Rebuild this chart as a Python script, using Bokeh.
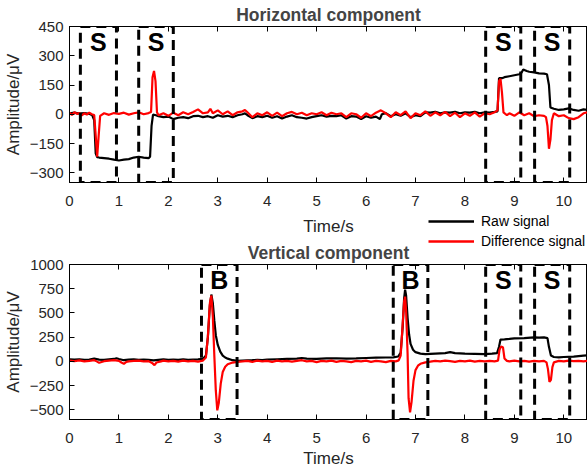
from bokeh.plotting import figure
from bokeh.layouts import column
from bokeh.models import LinearAxis, FixedTicker, Range1d, Legend, LegendItem
from bokeh.core.properties import value
from bokeh.embed import file_html
from bokeh.resources import INLINE

# ---------------- data ----------------
# Horizontal component - raw signal
t_raw_h = [0.0, 0.1, 0.2, 0.3, 0.4, 0.46, 0.5, 0.53, 0.56, 0.6, 0.7, 0.8, 0.9, 1.0, 1.1, 1.2, 1.3, 1.4, 1.5, 1.6,
           1.63, 1.66, 1.69, 1.75, 1.8, 1.9, 2.0, 2.1, 2.2, 2.3, 2.4, 2.5, 2.6, 2.7, 2.8, 2.9, 3.0, 3.1, 3.2, 3.3,
           3.4, 3.5, 3.55, 3.6, 3.7, 3.8, 3.9, 4.0, 4.1, 4.2, 4.3, 4.4, 4.5, 4.6, 4.7, 4.8, 4.9, 5.0, 5.1, 5.2,
           5.3, 5.4, 5.5, 5.6, 5.7, 5.8, 5.9, 6.0, 6.1, 6.2, 6.28, 6.32, 6.4, 6.5, 6.6, 6.7, 6.8, 6.9, 7.0, 7.1,
           7.2, 7.3, 7.4, 7.5, 7.6, 7.7, 7.8, 7.9, 8.0, 8.1, 8.2, 8.3, 8.4, 8.5, 8.6, 8.66, 8.69, 8.75, 8.8, 8.9,
           9.0, 9.1, 9.15, 9.18, 9.25, 9.3, 9.4, 9.5, 9.6, 9.66, 9.7, 9.73, 9.8, 9.9, 10.0, 10.1, 10.2, 10.3, 10.4, 10.48]
v_raw_h = [5, 8, 3, 6, 2, -5, -30, -200, -220, -222, -225, -228, -233, -237, -233, -230, -222, -218, -222, -225,
           -218, -60, -2, -5, -10, -15, -12, -25, -18, -15, -20, -10, -8, -15, -10, -18, -5, -12, -8, -15,
           -5, 0, 5, -5, -20, -10, -15, -8, -18, -10, -22, -12, -5, -15, -18, -22, -15, -10, -5, -12,
           -8, -10, -5, -22, -10, -12, -25, -10, -18, -12, -25, 0, 5, -10, 0, -8, 5, -15, -5, -10,
           10, 8, 12, 5, 10, 8, 12, 5, 10, 8, 12, 5, 10, 8, 12, 15, 185, 185, 190, 195,
           200, 205, 215, 230, 222, 218, 215, 210, 208, 205, 150, 35, 28, 22, 25, 30, 22, 18, 25, 22]

# Horizontal component - difference signal
t_diff_h = [0.0, 0.05, 0.1, 0.15, 0.2, 0.25, 0.3, 0.35, 0.4, 0.45, 0.5, 0.53, 0.56, 0.59, 0.62, 0.7, 0.8, 0.9, 1.0, 1.1,
            1.2, 1.3, 1.4, 1.5, 1.6, 1.65, 1.68, 1.71, 1.74, 1.77, 1.8, 1.9, 2.0, 2.1, 2.2, 2.3, 2.4, 2.5, 2.6, 2.7,
            2.8, 2.85, 2.9, 3.0, 3.1, 3.2, 3.3, 3.4, 3.5, 3.55, 3.6, 3.7, 3.8, 3.9, 4.0, 4.1, 4.2, 4.3, 4.4, 4.5,
            4.6, 4.7, 4.8, 4.9, 5.0, 5.1, 5.2, 5.3, 5.4, 5.5, 5.6, 5.7, 5.8, 5.9, 6.0, 6.1, 6.2, 6.3, 6.4, 6.5,
            6.6, 6.7, 6.8, 6.9, 7.0, 7.1, 7.2, 7.3, 7.4, 7.5, 7.6, 7.7, 7.8, 7.9, 8.0, 8.1, 8.2, 8.3, 8.4, 8.5,
            8.6, 8.66, 8.69, 8.72, 8.75, 8.78, 8.85, 8.9, 9.0, 9.1, 9.2, 9.3, 9.4, 9.5, 9.6, 9.64, 9.67, 9.7, 9.73, 9.76,
            9.8, 9.9, 10.0, 10.1, 10.2, 10.3, 10.4, 10.48]
v_diff_h = [8, -4, 10, 2, 6, -6, 5, -2, 8, 0, -4, -110, -217, -110, -8, 5, -3, 6, 2, 8,
            -2, 5, 10, 0, 6, 12, 190, 222, 170, 10, -5, 5, -8, 8, -5, 10, 0, 12, 25, 5,
            10, 28, 5, 20, 0, 15, -5, 10, 15, 22, 10, -15, 5, -5, 10, -8, 8, -10, 5, 12,
            0, 8, -5, 5, 0, 10, -5, 8, 0, 5, -15, 5, 0, -18, 5, -10, 8, 20, 5, -15,
            10, -5, 15, -20, 5, -5, 15, -8, 10, -5, 12, -10, 8, -15, 5, -8, 10, -12, 5, 0,
            10, 20, 170, 182, 110, 10, -5, 5, -8, 10, -5, 5, -10, -5, -8, -15, -60, -177, -130, -30,
            5, -10, -5, -20, -25, -15, 5, 10]

# Vertical component - raw signal
t_raw_v = [0.0, 0.1, 0.2, 0.3, 0.4, 0.5, 0.6, 0.7, 0.8, 0.9, 0.95, 1.0, 1.1, 1.2, 1.3, 1.4, 1.5, 1.6, 1.7, 1.8,
           1.9, 2.0, 2.1, 2.2, 2.3, 2.4, 2.5, 2.6, 2.7, 2.76, 2.8, 2.84, 2.87, 2.9, 2.93, 2.96, 3.0, 3.05, 3.1, 3.15,
           3.2, 3.3, 3.4, 3.5, 3.6, 3.7, 3.8, 3.9, 4.0, 4.2, 4.4, 4.6, 4.7, 4.8, 5.0, 5.2, 5.4, 5.6, 5.8, 6.0,
           6.2, 6.4, 6.55, 6.65, 6.7, 6.74, 6.77, 6.79, 6.81, 6.84, 6.87, 6.9, 6.95, 7.0, 7.1, 7.2, 7.4, 7.6, 7.7, 7.8,
           8.0, 8.2, 8.4, 8.55, 8.65, 8.69, 8.72, 8.8, 8.9, 9.0, 9.2, 9.4, 9.5, 9.6, 9.67, 9.7, 9.74, 9.8, 9.9, 10.0,
           10.2, 10.4, 10.48]
v_raw_v = [20, 18, 22, 15, 18, 28, 18, 15, 20, 25, 32, 25, 12, 18, 20, 15, 18, 15, 10, 15,
           20, 15, 18, 15, 20, 15, 18, 20, 25, 60, 250, 580, 690, 600, 420, 270, 170, 100, 60, 40,
           28, 12, 5, 8, 10, 12, 15, 12, 18, 22, 25, 28, 35, 28, 25, 30, 32, 28, 30, 35,
           38, 40, 42, 50, 90, 350, 650, 740, 680, 450, 280, 180, 120, 95, 80, 75, 80, 85, 95, 85,
           80, 78, 75, 80, 85, 150, 225, 228, 232, 238, 240, 248, 245, 248, 240, 150, 60, 45, 42, 45,
           50, 60, 62]

# Vertical component - difference signal
t_diff_v = [0.0, 0.1, 0.2, 0.3, 0.4, 0.5, 0.55, 0.6, 0.7, 0.8, 0.9, 1.0, 1.05, 1.1, 1.15, 1.2, 1.3, 1.4, 1.5, 1.6,
            1.68, 1.72, 1.76, 1.85, 1.9, 2.0, 2.1, 2.2, 2.3, 2.4, 2.5, 2.6, 2.7, 2.76, 2.8, 2.84, 2.87, 2.9, 2.93, 2.96,
            2.99, 3.02, 3.06, 3.1, 3.15, 3.2, 3.3, 3.4, 3.5, 3.6, 3.7, 3.8, 3.9, 4.0, 4.1, 4.2, 4.3, 4.4, 4.5, 4.6,
            4.7, 4.8, 4.9, 5.0, 5.1, 5.2, 5.3, 5.4, 5.5, 5.6, 5.7, 5.8, 5.9, 6.0, 6.1, 6.2, 6.3, 6.4, 6.5, 6.6,
            6.66, 6.7, 6.74, 6.77, 6.79, 6.81, 6.84, 6.86, 6.89, 6.92, 6.96, 7.0, 7.05, 7.1, 7.2, 7.3, 7.4, 7.5, 7.6, 7.7,
            7.8, 7.9, 8.0, 8.1, 8.2, 8.3, 8.4, 8.5, 8.6, 8.67, 8.7, 8.73, 8.77, 8.8, 8.85, 8.9, 9.0, 9.1, 9.2, 9.3,
            9.4, 9.5, 9.6, 9.65, 9.68, 9.71, 9.74, 9.77, 9.8, 9.9, 10.0, 10.1, 10.2, 10.3, 10.4, 10.48]
v_diff_v = [8, 2, 10, 0, 5, 12, 0, -15, 2, 8, 12, 5, -12, -25, -5, 0, 5, 8, 0, 3,
            -20, -38, -12, 0, 8, 0, 5, -3, 8, 0, 5, -2, 8, 40, 260, 600, 680, 460, 60, -300,
            -506, -430, -230, -110, -55, -30, -12, -5, 0, 5, -5, 8, 0, 5, -5, 8, 0, 5, -3, 5,
            12, 0, 5, -8, 5, 0, 8, -5, 5, 0, -8, 5, 0, 8, -5, 5, 0, -8, 5, 0,
            10, 60, 380, 620, 668, 520, 80, -380, -526, -420, -200, -90, -45, -25, -10, -3, 5, 0, 8, 2,
            -5, 5, 0, 8, -3, 5, 0, 5, 0, 8, 120, 152, 145, 30, 5, 0, 8, 0, 5, -3,
            5, 0, 5, -10, -80, -212, -190, -60, -10, 5, 0, 8, 2, 5, 0, 5]

# Marked event windows (seconds)
box_h_left = [0.22, 1.40, 8.42, 9.41]
box_h_right = [0.95, 2.10, 9.13, 10.12]
box_h_text = ["S", "S", "S", "S"]
box_v_left = [2.67, 6.55, 8.42, 9.41]
box_v_right = [3.39, 7.25, 9.13, 10.12]
box_v_text = ["B", "B", "S", "S"]

x_ticks = [0, 1, 2, 3, 4, 5, 6, 7, 8, 9, 10]
y_ticks_h = [-300, -150, 0, 150, 300, 450]
y_ticks_v = [-500, -250, 0, 250, 500, 750, 1000]
legend_labels = ["Raw signal", "Difference signal"]
series_colors = ["black", "#ff0000"]

FONT = "Liberation Sans"
X_END = 10.48


def make_fig(title, y_range, y_ticks, height, top_border, bottom_border, xlabel_standoff):
    p = figure(width=587, height=height, output_backend="svg", toolbar_location=None,
               x_range=Range1d(0, X_END), y_range=Range1d(*y_range),
               min_border_left=68, min_border_right=0, min_border_top=top_border,
               min_border_bottom=bottom_border, title=title)
    p.title.align = "center"
    p.title.text_font = FONT
    p.title.text_font_size = "17.5px"
    p.title.text_font_style = "bold"
    p.title.text_line_height = 0.8
    p.title.standoff = 4
    p.title.offset = 0
    p.grid.visible = False
    p.outline_line_color = "black"
    p.outline_line_width = 1
    for ax in (p.xaxis[0], p.yaxis[0]):
        ax.major_tick_in = 5
        ax.major_tick_out = 0
        ax.minor_tick_in = 0
        ax.minor_tick_out = 0
        ax.axis_line_color = "black"
        ax.major_tick_line_color = "black"
        ax.major_label_text_font = FONT
        ax.major_label_text_font_size = "15px"
        ax.major_label_text_color = "#262626"
        ax.axis_label_text_font = FONT
        ax.axis_label_text_font_size = "17px"
        ax.axis_label_text_font_style = "normal"
        ax.axis_label_text_color = "#262626"
    p.xaxis[0].ticker = FixedTicker(ticks=x_ticks)
    p.yaxis[0].ticker = FixedTicker(ticks=y_ticks)
    p.xaxis[0].major_label_standoff = 13
    p.yaxis[0].major_label_standoff = 6
    p.xaxis[0].axis_label = "Time/s"
    p.xaxis[0].axis_label_standoff = xlabel_standoff
    p.yaxis[0].axis_label = "Amplitude/\u03bcV"
    p.yaxis[0].axis_label_standoff = 4
    # mirrored tick marks along the top edge (no labels)
    top_ax = LinearAxis(ticker=FixedTicker(ticks=x_ticks), major_tick_in=5, major_tick_out=0,
                        minor_tick_in=0, minor_tick_out=0, major_label_text_color=None,
                        major_label_text_font_size="1px", major_label_standoff=0,
                        axis_line_color="black")
    p.add_layout(top_ax, "above")
    return p


def add_content(p, t_raw, v_raw, t_diff, v_diff, bl, br, btxt, y_range, letter_y):
    p.line(t_raw, v_raw, line_color=series_colors[0], line_width=2.2)
    p.line(t_diff, v_diff, line_color=series_colors[1], line_width=2.2)
    n = len(bl)
    p.quad(left=bl, right=br, bottom=[y_range[0]] * n, top=[y_range[1]] * n,
           fill_alpha=0, line_color="black", line_width=3, line_dash="10 6")
    centers = [(a + b) / 2 for a, b in zip(bl, br)]
    p.text(x=centers, y=[letter_y] * n, text=btxt, text_font=value(FONT), text_font_style="bold",
           text_font_size="25px", text_align="center", text_baseline="middle", text_color="black")


yr_h = (-350, 450)
yr_v = (-600, 1000)

p1 = make_fig("Horizontal component", yr_h, y_ticks_h, 238, 24, 56, 8)
add_content(p1, t_raw_h, v_raw_h, t_diff_h, v_diff_h, box_h_left, box_h_right, box_h_text, yr_h, 370)

p2 = make_fig("Vertical component", yr_v, y_ticks_v, 235, 24, 54, 3)
add_content(p2, t_raw_v, v_raw_v, t_diff_v, v_diff_v, box_v_left, box_v_right, box_v_text, yr_v, 840)

# shared legend, overlaid between the two panels (transparent canvas)
pl = figure(width=228, height=38, output_backend="svg", toolbar_location=None,
            x_axis_type=None, y_axis_type=None, min_border_left=68, min_border_right=0,
            min_border_top=0, min_border_bottom=0,
            x_range=Range1d(0, 1), y_range=Range1d(0, 1),
            styles={"position": "absolute", "left": "359px", "top": "213px"})
pl.outline_line_color = None
pl.background_fill_color = None
pl.border_fill_color = None
pl.grid.visible = False
items = []
for lab, col in zip(legend_labels, series_colors):
    r = pl.line([float("nan")] * 2, [float("nan")] * 2, line_color=col, line_width=2.6)
    items.append(LegendItem(label=lab, renderers=[r]))
lg = Legend(items=items, location="top_left")
lg.border_line_color = None
lg.background_fill_alpha = 0
lg.padding = 0
lg.margin = 0
lg.spacing = 4
lg.glyph_width = 46
lg.glyph_height = 16
lg.label_height = 16
lg.label_standoff = 7
lg.label_text_font = FONT
lg.label_text_font_size = "14px"
lg.label_text_color = "black"
pl.add_layout(lg)

layout = column(p1, p2, pl, spacing=0)
open("out.html", "w").write(file_html(layout, INLINE))
